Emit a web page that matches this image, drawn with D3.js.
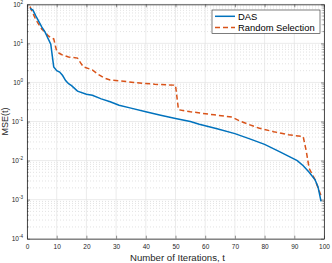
<!DOCTYPE html>
<html>
<head>
<meta charset="utf-8">
<script src="https://cdn.jsdelivr.net/npm/d3@7"></script>
<style>
  body { margin: 0; background: #fff; }
  svg { display: block; font-family: 'Liberation Sans', Arial, sans-serif; }
</style>
</head>
<body>
<svg id="drawing_region"></svg>
<script>
// iteration index and MSE
const das_t = [1, 2, 3, 5, 6, 8, 9, 10, 11, 12, 13, 14, 15, 17, 20, 22, 25, 28, 31, 35, 40, 45, 50, 55, 58, 64, 70, 75, 80, 85, 88, 91, 93, 95, 97, 98, 99];
const das_mse = [79, 71, 50, 26, 20, 9.5, 2.5, 2.0, 1.85, 1.5, 1.12, 0.93, 0.83, 0.6, 0.5, 0.47, 0.38, 0.32, 0.26, 0.22, 0.178, 0.145, 0.12, 0.1, 0.085, 0.065, 0.049, 0.036, 0.026, 0.017, 0.013, 0.01, 0.0074, 0.005, 0.0032, 0.0021, 0.0009];

const rnd_t = [1, 3, 5, 6, 7, 8, 9, 10, 11, 12, 14, 17, 18, 19, 22, 24, 26, 28, 31, 36, 43, 50, 51, 55, 63, 69, 72, 78, 83, 88, 93, 94, 95, 97, 99];
const rnd_mse = [87, 40, 23, 20, 16, 14, 13, 6.3, 5.5, 5.0, 4.5, 4.2, 3.2, 2.5, 2.1, 1.6, 1.3, 1.15, 1.1, 1.0, 0.9, 0.85, 0.2, 0.178, 0.148, 0.13, 0.1, 0.068, 0.055, 0.046, 0.041, 0.018, 0.0063, 0.0032, 0.00126];

const x_ticks = [0, 10, 20, 30, 40, 50, 60, 70, 80, 90, 100];
const y_exps = [-4, -3, -2, -1, 0, 1, 2];
const legend_labels = ['DAS', 'Random Selection'];

const width = 332, height = 263;
const margin = {top: 4.3, right: 8, bottom: 24.3, left: 27};
const inner_width = width - margin.left - margin.right;
const inner_height = height - margin.top - margin.bottom;

const svg = d3.select('#drawing_region')
    .attr('width', width)
    .attr('height', height);

const chart = svg.append('g')
    .attr('transform', `translate(${margin.left}, ${margin.top})`);

const xscale = d3.scaleLinear().domain([0, 100]).range([0, inner_width]);
const yscale = d3.scaleLog().domain([1e-4, 1e2]).range([inner_height, 0]);

// minor grid (dotted)
let minor = [];
y_exps.slice(0, -1).forEach(e => {
    for (let k = 2; k <= 9; k++) minor.push(k * Math.pow(10, e));
});
chart.append('g').selectAll('line')
    .data(minor)
    .join('line')
    .attr('x1', 0).attr('x2', inner_width)
    .attr('y1', d => yscale(d)).attr('y2', d => yscale(d))
    .attr('stroke', '#cfcfcf')
    .attr('stroke-width', 0.6)
    .attr('stroke-dasharray', '1,2');

// major grid
chart.append('g').selectAll('line')
    .data(y_exps)
    .join('line')
    .attr('x1', 0).attr('x2', inner_width)
    .attr('y1', d => yscale(Math.pow(10, d))).attr('y2', d => yscale(Math.pow(10, d)))
    .attr('stroke', '#e3e3e3')
    .attr('stroke-width', 0.7);
chart.append('g').selectAll('line')
    .data(x_ticks)
    .join('line')
    .attr('x1', d => xscale(d)).attr('x2', d => xscale(d))
    .attr('y1', 0).attr('y2', inner_height)
    .attr('stroke', '#e3e3e3')
    .attr('stroke-width', 0.7);

// series
const line = (ts, vs) => d3.line()
    .x((d, i) => xscale(ts[i]))
    .y(d => yscale(d))(vs);

chart.append('path')
    .attr('d', line(rnd_t, rnd_mse))
    .attr('fill', 'none')
    .attr('stroke', '#D95319')
    .attr('stroke-width', 1.5)
    .attr('stroke-dasharray', '5,3');

chart.append('path')
    .attr('d', line(das_t, das_mse))
    .attr('fill', 'none')
    .attr('stroke', '#0072BD')
    .attr('stroke-width', 1.5);

// axes (MATLAB style, ticks inward, box on)
const axis_color = '#262626';
const xaxis = d3.axisBottom(xscale).tickValues(x_ticks).tickSize(-3).tickSizeOuter(0).tickPadding(6);
const xg = chart.append('g')
    .attr('transform', `translate(0, ${inner_height})`)
    .call(xaxis);
const xtop = chart.append('g')
    .call(d3.axisTop(xscale).tickValues(x_ticks).tickSize(-3).tickSizeOuter(0).tickFormat(''));

const yaxis = d3.axisLeft(yscale)
    .tickValues(y_exps.map(e => Math.pow(10, e)))
    .tickSize(-3).tickSizeOuter(0).tickFormat('');
const yg = chart.append('g').call(yaxis);
const yright = chart.append('g')
    .attr('transform', `translate(${inner_width}, 0)`)
    .call(d3.axisRight(yscale).tickValues(y_exps.map(e => Math.pow(10, e))).tickSize(-3).tickSizeOuter(0).tickFormat(''));

// minor ticks on y
[0, inner_width].forEach((xx, j) => {
    chart.append('g').selectAll('line')
        .data(minor)
        .join('line')
        .attr('x1', xx).attr('x2', j === 0 ? xx + 1.6 : xx - 1.6)
        .attr('y1', d => yscale(d)).attr('y2', d => yscale(d))
        .attr('stroke', axis_color)
        .attr('stroke-width', 0.5);
});

[xg, xtop, yg, yright].forEach(g => {
    g.selectAll('.domain').attr('stroke', axis_color).attr('stroke-width', 0.8);
    g.selectAll('.tick line').attr('stroke', axis_color).attr('stroke-width', 0.5);
});
xg.selectAll('text')
    .attr('font-size', '6.5px')
    .attr('fill', axis_color)
    .attr('font-family', "'Liberation Sans', Arial, sans-serif");

// y tick labels 10^n
const ylab = chart.append('g');
y_exps.forEach(e => {
    const t = ylab.append('text')
        .attr('x', -4)
        .attr('y', yscale(Math.pow(10, e)) + 2.3)
        .attr('text-anchor', 'end')
        .attr('font-size', '6.5px')
        .attr('fill', axis_color);
    t.append('tspan').text('10');
    t.append('tspan').attr('dy', -3).attr('font-size', '4.6px').text(e);
});

// axis labels
svg.append('text')
    .attr('x', margin.left + inner_width / 2 + 2)
    .attr('y', 261)
    .attr('text-anchor', 'middle')
    .attr('font-size', '9.6px')
    .attr('fill', axis_color)
    .text('Number of Iterations, t');

svg.append('text')
    .attr('transform', `translate(8, ${margin.top + inner_height / 2}) rotate(-90)`)
    .attr('text-anchor', 'middle')
    .attr('font-size', '9px')
    .attr('fill', axis_color)
    .text('MSE(t)');

// legend
const legend = svg.append('g').attr('transform', 'translate(212, 10)');
legend.append('rect')
    .attr('width', 108).attr('height', 23.5)
    .attr('fill', '#fff')
    .attr('stroke', axis_color)
    .attr('stroke-width', 0.6);
const styles = [{c: '#0072BD', dash: null}, {c: '#D95319', dash: '5,3'}];
legend_labels.forEach((name, i) => {
    const yy = 6.3 + i * 11.3;
    legend.append('line')
        .attr('x1', 3).attr('x2', 23)
        .attr('y1', yy).attr('y2', yy)
        .attr('stroke', styles[i].c)
        .attr('stroke-width', 1.5)
        .attr('stroke-dasharray', styles[i].dash);
    legend.append('text')
        .attr('x', 26).attr('y', yy + 3.2)
        .attr('font-size', '9.4px')
        .attr('fill', '#000')
        .text(name);
});
</script>
</body>
</html>
